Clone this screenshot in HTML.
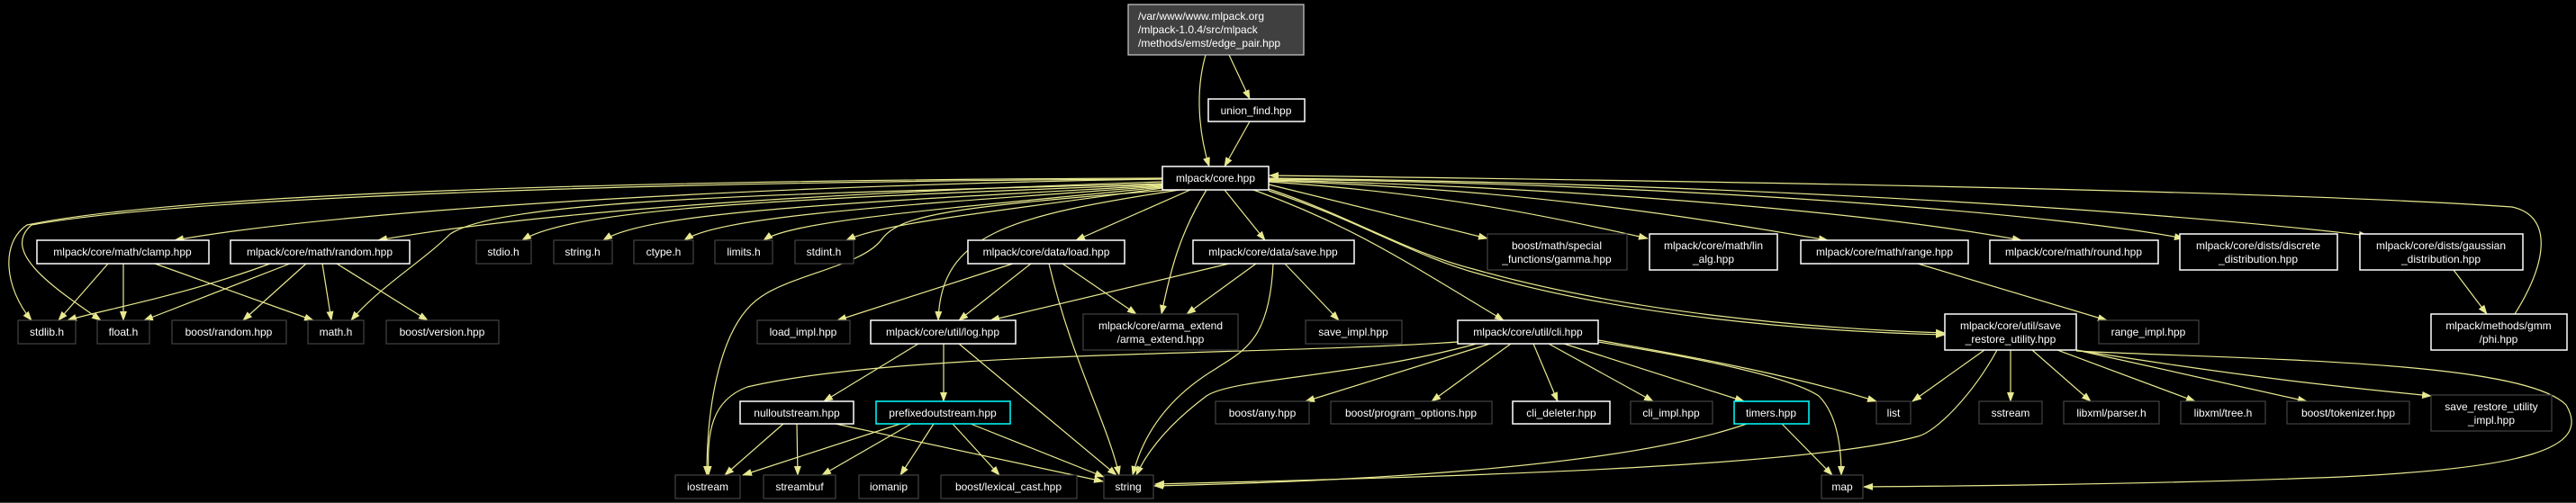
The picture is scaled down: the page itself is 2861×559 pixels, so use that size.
<!DOCTYPE html>
<html><head><meta charset="utf-8"><style>
html,body{margin:0;padding:0;background:#000;}
svg{display:block}
text{font-family:"Liberation Sans",sans-serif;font-size:12px;fill:#fff;text-anchor:middle}
.e{fill:none;stroke:#e8e890;stroke-width:1.2}
.w{fill:#000;stroke:#fff;stroke-width:1.5}
.g{fill:#000;stroke:#444;stroke-width:1.2}
.c{fill:#000;stroke:#0ff;stroke-width:1.5}
</style></head><body>
<svg width="2861" height="559" viewBox="0 0 2861 559" xmlns="http://www.w3.org/2000/svg">
<defs><marker id="a" markerWidth="11" markerHeight="8" refX="10" refY="4" orient="auto" markerUnits="userSpaceOnUse"><path d="M0,0 L11,4 L0,8 z" fill="#e8e890"/></marker></defs>
<g class="e" marker-end="url(#a)">
<path d="M1339,61 C1325,110 1335,160 1343,185"/>
<path d="M1365,61 L1388,110"/>
<path d="M1388,135 L1360,185"/>
<path d="M1291,199 C900,205 400,230 194,267"/>
<path d="M1291,202 C900,215 600,235 420,267"/>
<path d="M1291,198 C700,200 200,215 30,250 C0,270 5,320 35,356"/>
<path d="M1291,199 C700,202 200,220 35,250 C0,280 60,320 112,356"/>
<path d="M1291,204 C900,215 560,220 500,260 C470,290 420,320 390,356"/>
<path d="M1291,205 C900,220 640,230 580,267"/>
<path d="M1291,206 C950,225 720,235 670,267"/>
<path d="M1291,207 C1000,228 800,240 760,267"/>
<path d="M1291,208 C1050,232 880,245 848,267"/>
<path d="M1291,209 C1100,236 980,248 940,267"/>
<path d="M1300,211 C1050,230 1000,240 980,265 C960,295 880,305 845,330 C800,360 785,450 785,528"/>
<path d="M1310,211 C1120,240 1045,260 1042,356"/>
<path d="M1322,211 L1195,267"/>
<path d="M1340,211 C1310,260 1300,300 1290,349"/>
<path d="M1360,211 L1405,267"/>
<path d="M1392,211 C1500,250 1560,290 1670,356"/>
<path d="M1409,205 L1652,265"/>
<path d="M1409,202 C1600,215 1720,240 1830,265"/>
<path d="M1409,201 C1700,210 1900,245 2030,267"/>
<path d="M1409,200 C1800,210 2100,240 2245,267"/>
<path d="M1409,199 C1900,205 2300,240 2425,265"/>
<path d="M1409,198 C2000,205 2450,240 2630,262"/>
<path d="M1409,210 C1500,240 1560,280 1640,300 C1800,345 2000,365 2160,370"/>
<path d="M1409,212 C1510,245 1570,285 1645,305 C1800,350 2000,368 2160,372"/>
<path d="M2793,349 C2830,290 2835,240 2790,230 C2500,210 1800,200 1410,195"/>
<path d="M2725,300 L2762,349"/>
<path d="M2130,293 L2340,356"/>
<path d="M120,293 L65,356"/>
<path d="M137,293 L137,356"/>
<path d="M172,293 L348,356"/>
<path d="M300,293 C200,330 110,345 75,356"/>
<path d="M322,293 L160,356"/>
<path d="M340,293 L270,356"/>
<path d="M358,293 L368,356"/>
<path d="M374,293 L475,356"/>
<path d="M1125,293 L930,356"/>
<path d="M1145,293 L1065,356"/>
<path d="M1180,293 L1262,349"/>
<path d="M1165,293 C1190,400 1230,470 1243,528"/>
<path d="M1365,293 L1100,356"/>
<path d="M1395,293 L1318,349"/>
<path d="M1427,293 L1487,356"/>
<path d="M1414,293 C1410,380 1380,390 1350,410 C1300,440 1270,480 1258,528"/>
<path d="M1020,382 L915,446"/>
<path d="M1048,382 L1048,446"/>
<path d="M1065,382 L1240,528"/>
<path d="M1619,380 C1400,395 1000,390 830,430 C790,445 785,480 787,528"/>
<path d="M870,471 L805,528"/>
<path d="M885,471 L886,528"/>
<path d="M928,471 L1225,535"/>
<path d="M1000,471 L825,528"/>
<path d="M1012,471 L913,528"/>
<path d="M1037,471 L1000,528"/>
<path d="M1058,471 L1110,528"/>
<path d="M1078,471 L1226,530"/>
<path d="M1640,382 C1500,420 1370,420 1340,440 C1300,470 1275,500 1262,528"/>
<path d="M1655,382 L1450,446"/>
<path d="M1678,382 L1590,446"/>
<path d="M1703,382 L1730,446"/>
<path d="M1720,382 L1836,446"/>
<path d="M1737,382 L1937,446"/>
<path d="M1775,378 C1900,400 2000,420 2084,446"/>
<path d="M1775,380 C1900,400 1990,420 2020,440 C2040,460 2045,495 2045,528"/>
<path d="M1940,471 C1800,520 1500,535 1282,540"/>
<path d="M1979,471 L2035,528"/>
<path d="M2204,389 L2124,446"/>
<path d="M2218,389 C2190,440 2150,480 2130,485 C2000,520 1600,530 1283,538"/>
<path d="M2233,389 L2233,446"/>
<path d="M2257,389 L2322,446"/>
<path d="M2285,389 L2438,446"/>
<path d="M2306,389 L2562,446"/>
<path d="M2306,389 C2500,420 2600,430 2700,440"/>
<path d="M2306,390 C2500,400 2800,400 2850,450 C2880,500 2800,520 2600,530 C2400,538 2200,540 2070,541"/>
</g>
<rect x="1253" y="5" width="195" height="56" fill="#404040" stroke="#ccc" stroke-width="1.2"/>
<text x="1264" y="22" style="text-anchor:start">/var/www/www.mlpack.org</text>
<text x="1264" y="37" style="text-anchor:start">/mlpack-1.0.4/src/mlpack</text>
<text x="1264" y="52" style="text-anchor:start">/methods/emst/edge_pair.hpp</text>
<rect class="w" x="1342" y="110" width="107" height="25"/><text x="1395" y="127">union_find.hpp</text>
<rect class="w" x="1291" y="185" width="118" height="26"/><text x="1350" y="202">mlpack/core.hpp</text>
<rect class="w" x="41" y="267" width="191" height="26"/><text x="136" y="284">mlpack/core/math/clamp.hpp</text>
<rect class="w" x="256" y="267" width="199" height="26"/><text x="355" y="284">mlpack/core/math/random.hpp</text>
<rect class="g" x="529" y="267" width="61" height="26"/><text x="559" y="284">stdio.h</text>
<rect class="g" x="615" y="267" width="65" height="26"/><text x="647" y="284">string.h</text>
<rect class="g" x="704" y="267" width="66" height="26"/><text x="737" y="284">ctype.h</text>
<rect class="g" x="794" y="267" width="64" height="26"/><text x="826" y="284">limits.h</text>
<rect class="g" x="883" y="267" width="65" height="26"/><text x="915" y="284">stdint.h</text>
<rect class="w" x="1075" y="267" width="174" height="26"/><text x="1162" y="284">mlpack/core/data/load.hpp</text>
<rect class="w" x="1325" y="267" width="179" height="26"/><text x="1414" y="284">mlpack/core/data/save.hpp</text>
<rect class="g" x="1652" y="260" width="155" height="40"/><text x="1729" y="277">boost/math/special</text><text x="1729" y="292">_functions/gamma.hpp</text>
<rect class="w" x="1832" y="260" width="142" height="40"/><text x="1903" y="277">mlpack/core/math/lin</text><text x="1903" y="292">_alg.hpp</text>
<rect class="w" x="2000" y="267" width="186" height="26"/><text x="2093" y="284">mlpack/core/math/range.hpp</text>
<rect class="w" x="2210" y="267" width="187" height="26"/><text x="2303" y="284">mlpack/core/math/round.hpp</text>
<rect class="w" x="2421" y="260" width="175" height="40"/><text x="2508" y="277">mlpack/core/dists/discrete</text><text x="2508" y="292">_distribution.hpp</text>
<rect class="w" x="2621" y="260" width="181" height="40"/><text x="2711" y="277">mlpack/core/dists/gaussian</text><text x="2711" y="292">_distribution.hpp</text>
<rect class="g" x="20" y="356" width="64" height="26"/><text x="52" y="373">stdlib.h</text>
<rect class="g" x="108" y="356" width="58" height="26"/><text x="137" y="373">float.h</text>
<rect class="g" x="191" y="356" width="127" height="26"/><text x="254" y="373">boost/random.hpp</text>
<rect class="g" x="342" y="356" width="62" height="26"/><text x="373" y="373">math.h</text>
<rect class="g" x="429" y="356" width="125" height="26"/><text x="491" y="373">boost/version.hpp</text>
<rect class="g" x="841" y="356" width="103" height="26"/><text x="892" y="373">load_impl.hpp</text>
<rect class="w" x="967" y="356" width="161" height="26"/><text x="1047" y="373">mlpack/core/util/log.hpp</text>
<rect class="g" x="1203" y="349" width="172" height="40"/><text x="1289" y="366">mlpack/core/arma_extend</text><text x="1289" y="381">/arma_extend.hpp</text>
<rect class="g" x="1450" y="356" width="107" height="26"/><text x="1503" y="373">save_impl.hpp</text>
<rect class="w" x="1619" y="356" width="156" height="26"/><text x="1697" y="373">mlpack/core/util/cli.hpp</text>
<rect class="w" x="2160" y="349" width="146" height="40"/><text x="2233" y="366">mlpack/core/util/save</text><text x="2233" y="381">_restore_utility.hpp</text>
<rect class="g" x="2331" y="356" width="111" height="26"/><text x="2386" y="373">range_impl.hpp</text>
<rect class="w" x="2700" y="349" width="151" height="40"/><text x="2775" y="366">mlpack/methods/gmm</text><text x="2775" y="381">/phi.hpp</text>
<rect class="w" x="822" y="446" width="126" height="25"/><text x="885" y="463">nulloutstream.hpp</text>
<rect class="c" x="973" y="446" width="149" height="25"/><text x="1047" y="463">prefixedoutstream.hpp</text>
<rect class="g" x="1350" y="446" width="104" height="25"/><text x="1402" y="463">boost/any.hpp</text>
<rect class="g" x="1478" y="446" width="179" height="25"/><text x="1567" y="463">boost/program_options.hpp</text>
<rect class="w" x="1680" y="446" width="108" height="25"/><text x="1734" y="463">cli_deleter.hpp</text>
<rect class="g" x="1811" y="446" width="91" height="25"/><text x="1856" y="463">cli_impl.hpp</text>
<rect class="c" x="1926" y="446" width="83" height="25"/><text x="1967" y="463">timers.hpp</text>
<rect class="g" x="2084" y="446" width="38" height="25"/><text x="2103" y="463">list</text>
<rect class="g" x="2198" y="446" width="70" height="25"/><text x="2233" y="463">sstream</text>
<rect class="g" x="2292" y="446" width="106" height="25"/><text x="2345" y="463">libxml/parser.h</text>
<rect class="g" x="2422" y="446" width="94" height="25"/><text x="2469" y="463">libxml/tree.h</text>
<rect class="g" x="2540" y="446" width="136" height="25"/><text x="2608" y="463">boost/tokenizer.hpp</text>
<rect class="g" x="2700" y="439" width="134" height="40"/><text x="2767" y="456">save_restore_utility</text><text x="2767" y="471">_impl.hpp</text>
<rect class="g" x="750" y="528" width="72" height="26"/><text x="786" y="545">iostream</text>
<rect class="g" x="848" y="528" width="80" height="26"/><text x="888" y="545">streambuf</text>
<rect class="g" x="954" y="528" width="66" height="26"/><text x="987" y="545">iomanip</text>
<rect class="g" x="1045" y="528" width="151" height="26"/><text x="1120" y="545">boost/lexical_cast.hpp</text>
<rect class="g" x="1226" y="528" width="55" height="26"/><text x="1253" y="545">string</text>
<rect class="g" x="2023" y="528" width="46" height="26"/><text x="2046" y="545">map</text>
<line x1="0" y1="558.5" x2="2861" y2="558.5" stroke="#444" stroke-width="1"/>
</svg>
</body></html>
